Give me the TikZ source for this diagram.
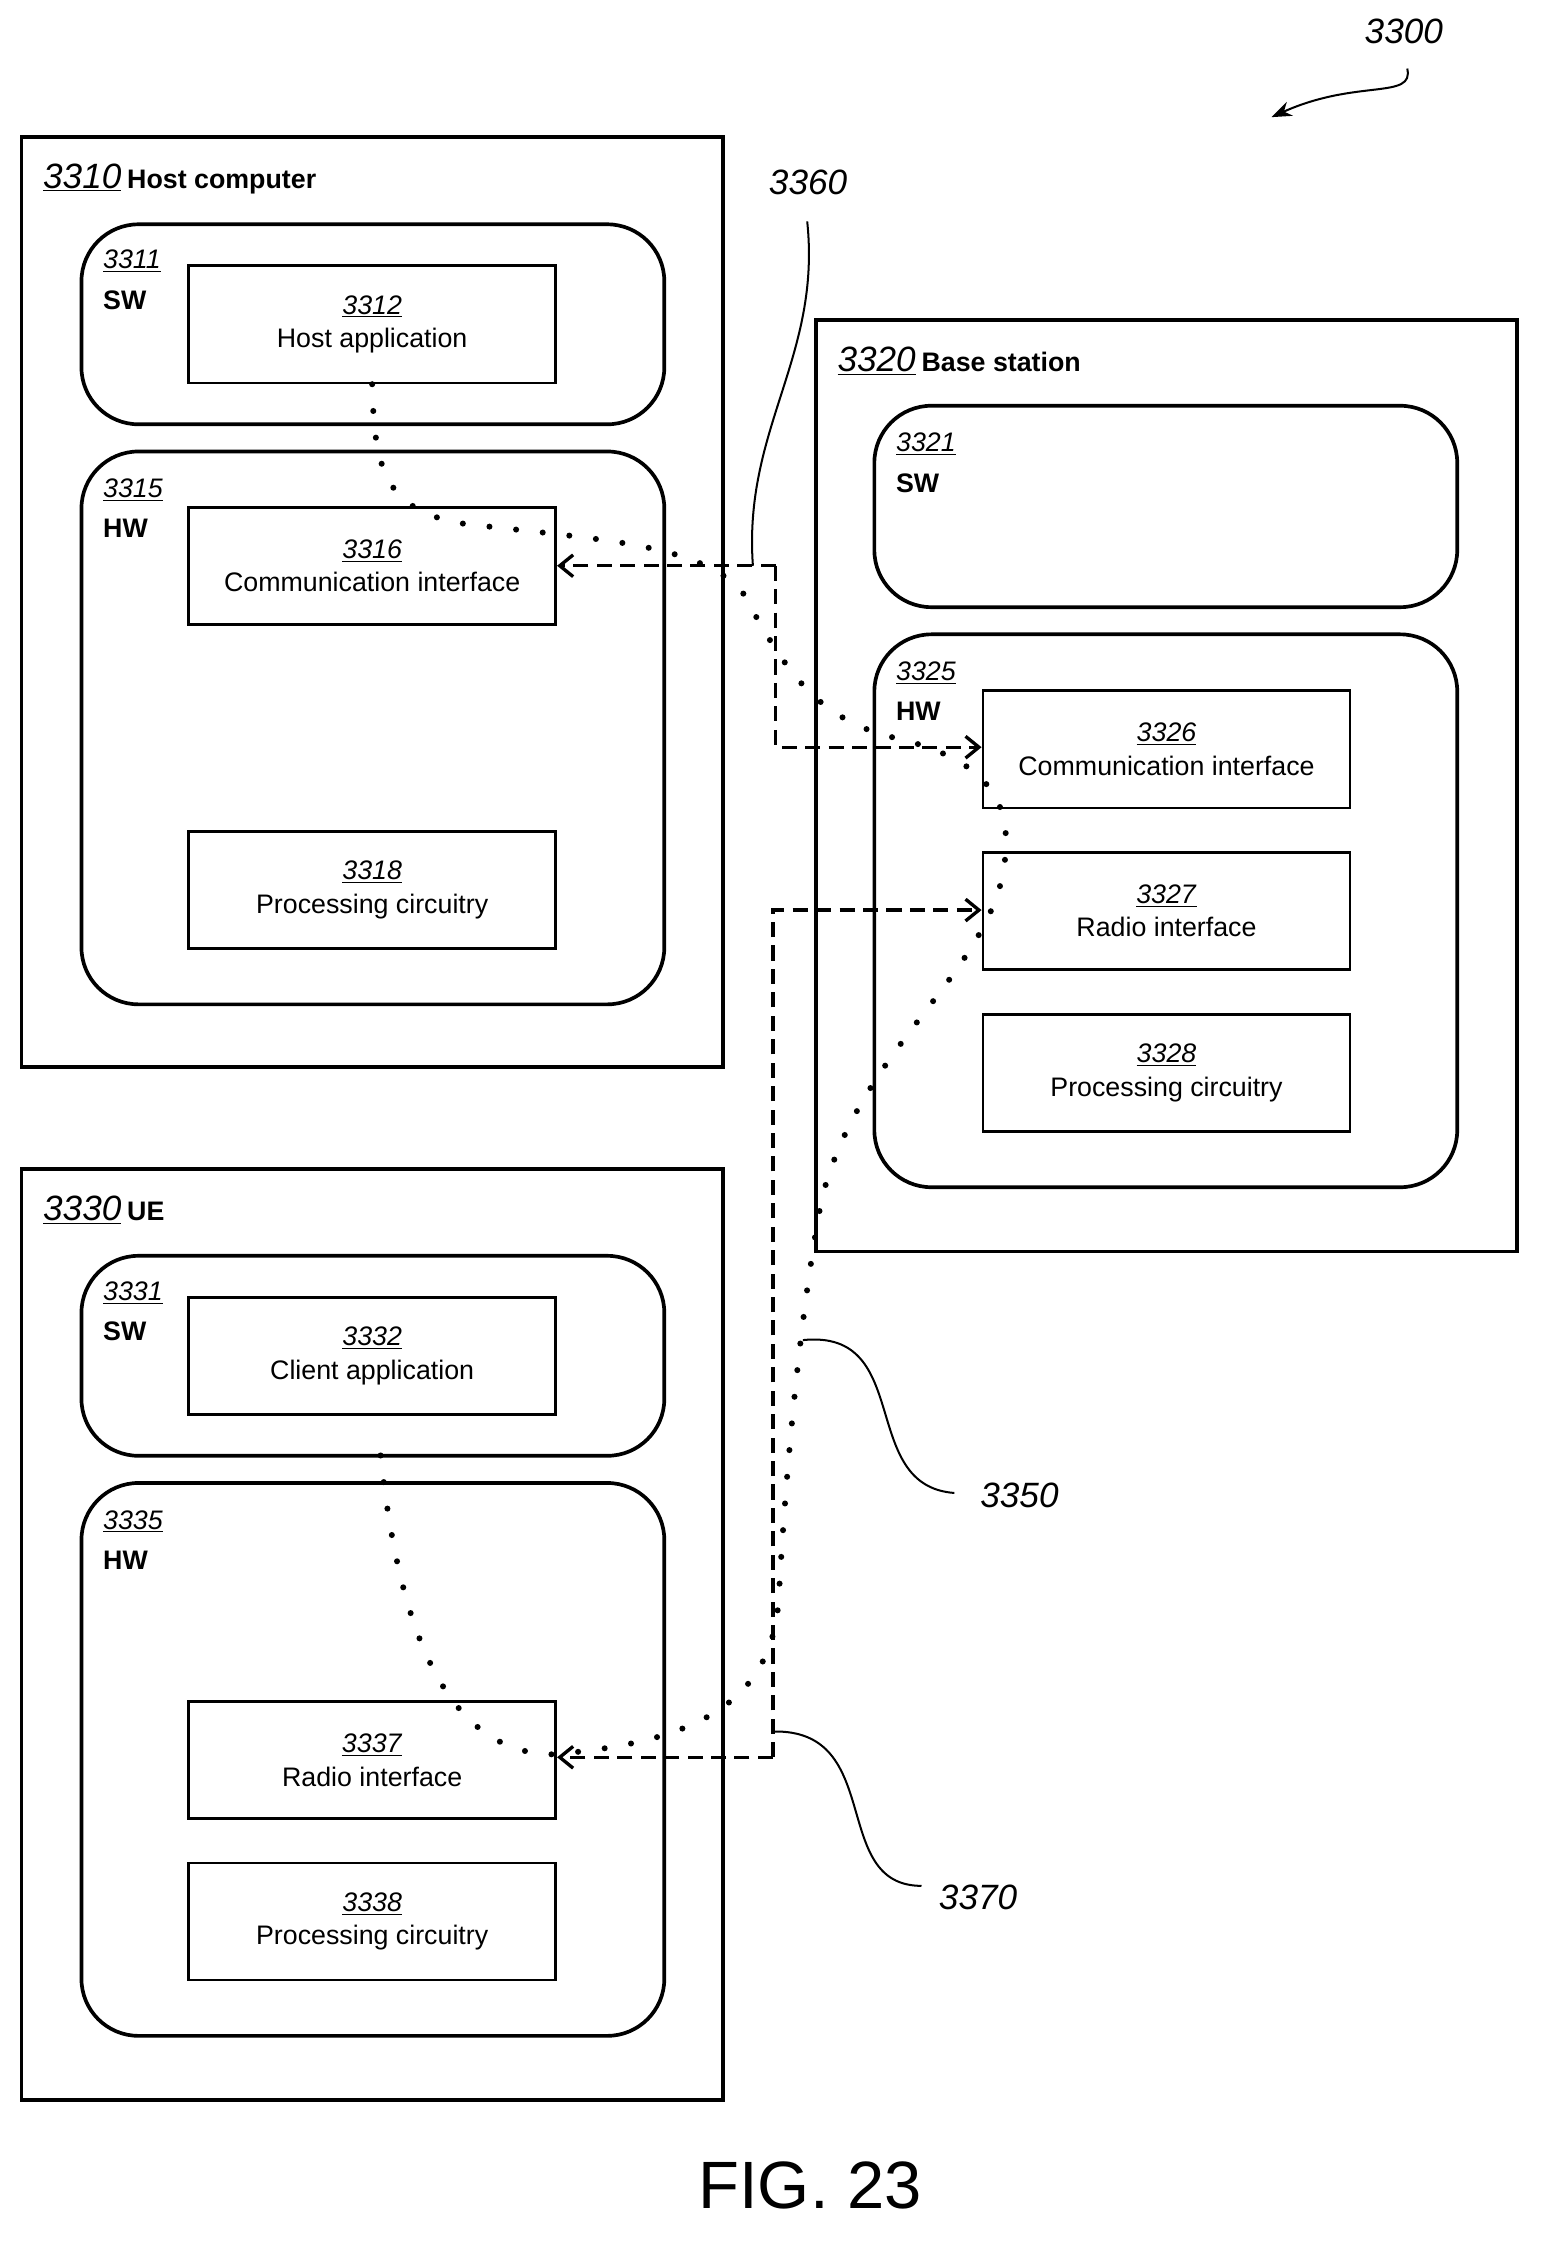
\documentclass[tikz,border=0pt]{standalone}
\usepackage{fontspec}
\setmainfont{Liberation Sans}
\usetikzlibrary{positioning,arrows.meta}
\tikzset{
  box/.style={draw, line width=1.6pt, minimum width=7.71cm, minimum height=2.46cm, align=center, font=\fontsize{16}{20}\selectfont},
  cont/.style={draw, line width=2.2pt, rounded corners=1.2cm},
  outer/.style={draw, line width=2.2pt},
  num/.style={font=\fontsize{16}{18}\selectfont\itshape, anchor=west, inner sep=0pt},
  big/.style={font=\fontsize{21}{24}\selectfont, anchor=west, inner sep=0pt},
  kind/.style={font=\fontsize{16}{18}\selectfont\bfseries, anchor=west, inner sep=0pt},
  link/.style={line width=2pt, dash pattern=on 9pt off 5pt},
  dotline/.style={line width=3.6pt, line cap=round, dash pattern=on 0pt off 16pt},
  lead/.style={line width=1.2pt},
  tip/.style={-{Straight Barb[length=8pt,width=13pt,line width=2pt]}}
}
\newcommand{\nb}[1]{\underline{\textit{#1}}}
\begin{document}
\begin{tikzpicture}[x=0.03cm,y=-0.03cm]
\useasboundingbox (0,0) rectangle (1078,1570);
% host computer
\draw[outer] (15,96) rectangle (506,747);
\node[big] at (30,125) {\nb{3310}\,\textbf{\fontsize{16}{18}\selectfont Host computer}};
\draw[cont] (57,157) rectangle (465,297);
\node[num] at (72,183) {\nb{3311}};
\node[kind] at (72,210) {SW};
\node[box] (n3312) at (260.5,227) {\nb{3312}\\Host application};
\draw[cont] (57,316) rectangle (465,703);
\node[num] at (72,343) {\nb{3315}};
\node[kind] at (72,370) {HW};
\node[box] (n3316) at (260.5,396) {\nb{3316}\\Communication interface};
\node[box] (n3318) at (260.5,623) {\nb{3318}\\Processing circuitry};
% base station
\draw[outer] (571,224) rectangle (1062,876);
\node[big] at (586,253) {\nb{3320}\,\textbf{\fontsize{16}{18}\selectfont Base station}};
\draw[cont] (612,284) rectangle (1020,425);
\node[num] at (627,311) {\nb{3321}};
\node[kind] at (627,338) {SW};
\draw[cont] (612,444) rectangle (1020,831);
\node[num] at (627,471) {\nb{3325}};
\node[kind] at (627,498) {HW};
\node[box] (n3326) at (816.5,524.5) {\nb{3326}\\Communication interface};
\node[box] (n3327) at (816.5,637.5) {\nb{3327}\\Radio interface};
\node[box] (n3328) at (816.5,751) {\nb{3328}\\Processing circuitry};
% UE
\draw[outer] (15,818) rectangle (506,1470);
\node[big] at (30,847) {\nb{3330}\,\textbf{\fontsize{16}{18}\selectfont UE}};
\draw[cont] (57,879) rectangle (465,1019);
\node[num] at (72,905) {\nb{3331}};
\node[kind] at (72,932) {SW};
\node[box] (n3332) at (260.5,949) {\nb{3332}\\Client application};
\draw[cont] (57,1038) rectangle (465,1425);
\node[num] at (72,1065) {\nb{3335}};
\node[kind] at (72,1092) {HW};
\node[box] (n3337) at (260.5,1232) {\nb{3337}\\Radio interface};
\node[box] (n3338) at (260.5,1345) {\nb{3338}\\Processing circuitry};
% connections
\coordinate (c1) at (543,396);
\coordinate (c2) at (543,523);
\coordinate (c3) at (541,1230);
\coordinate (c4) at (541,637);
\draw[link,tip] (c1) -- (n3316.east);
\draw[link,tip] (c1) -- (c2) -- (n3326.west |- c2);
\draw[link,tip] (c3) -- (c4) -- (n3327.west |- c4);
\draw[link,tip] (c3) -- (n3337.east |- c3);
\draw[dotline] (n3312.south) .. controls (262,330) and (270,355) .. (320,366)
  .. controls (420,378) and (490,380) .. (520,415)
  .. controls (550,470) and (570,500) .. (620,515)
  .. controls (690,530) and (715,560) .. (700,620)
  .. controls (680,690) and (600,740) .. (575,840)
  .. controls (560,920) and (550,1030) .. (545,1120)
  .. controls (540,1190) and (490,1220) .. (385,1228)
  .. controls (300,1225) and (275,1110) .. (265,1005);
% leaders
\node[big] (l3300) at (955,22) {\textit{3300}};
\node[big] (l3360) at (538,128) {\textit{3360}};
\node[big] (l3350) at (686,1047) {\textit{3350}};
\node[big] (l3370) at (657,1328) {\textit{3370}};
\draw[lead,-{Stealth[length=12pt,width=9pt]}] (985,48) .. controls (990,70) and (950,55) .. (890,82);
\draw[lead] (565,155) .. controls (575,250) and (520,300) .. (527,396);
\draw[lead] (562,938) .. controls (640,930) and (600,1040) .. (668,1045);
\draw[lead] (541,1212) .. controls (620,1210) and (580,1320) .. (645,1320);
\node[font=\fontsize{40}{44}\selectfont] (fig) at (567,1530) {FIG. 23};
\end{tikzpicture}
\end{document}
